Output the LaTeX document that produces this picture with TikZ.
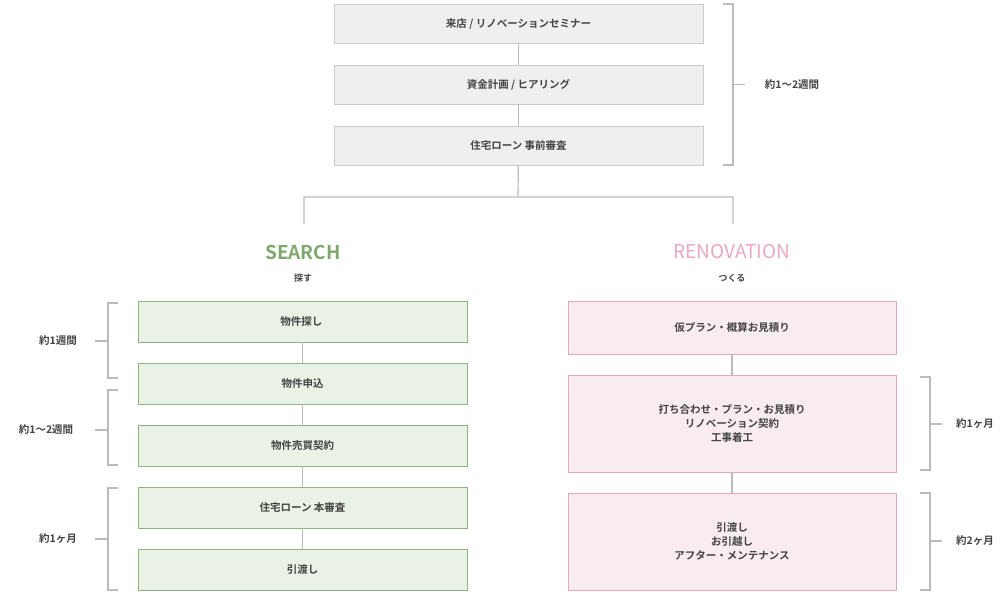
\documentclass[tikz,border=0pt]{standalone}
\usepackage{fontspec}
\setmainfont{Noto Sans CJK JP}[BoldFont={* Bold}]
\begin{document}
\begin{tikzpicture}[x=1pt,y=-1pt,
  every node/.style={font=\fontsize{10.5}{14}\selectfont\bfseries,text=txt,align=center},
  gbox/.style={draw=gb,fill=gf,line width=0.8pt,inner sep=0},
  gry/.style={draw=gr,fill=gf0,line width=0.8pt,inner sep=0},
  pbox/.style={draw=pb,fill=pf,line width=0.8pt,inner sep=0},
  ln/.style={draw=ln,line width=1.2pt},
  br/.style={draw=ln,line width=1.2pt}]
\definecolor{txt}{HTML}{444444}
\definecolor{gb}{HTML}{8DB57E}\definecolor{gf}{HTML}{EAF2E6}
\definecolor{gr}{HTML}{CCCCCC}\definecolor{gf0}{HTML}{EFEFEF}
\definecolor{pb}{HTML}{E8A6BE}\definecolor{pf}{HTML}{F8ECF1}
\definecolor{ln}{HTML}{BBBBBB}
\definecolor{sg}{HTML}{7FA86F}\definecolor{sp}{HTML}{E9A8C0}
\useasboundingbox (0,0) rectangle (1007,595);
% top
\node[gry,minimum width=369,minimum height=39] (t1) at (518.5,23.5) {来店 / リノベーションセミナー};
\node[gry,minimum width=369,minimum height=39] (t2) at (518.5,84.5) {資金計画 / ヒアリング};
\node[gry,minimum width=369,minimum height=39] (t3) at (518.5,145.5) {住宅ローン 事前審査};
\draw[ln] (t1)--(t2) (t2)--(t3);
\draw[br] (723,4)--(733,4)--(733,165)--(723,165) (733,84.5)--(745,84.5);
\node (lt) at (792,84.5) {約1〜2週間};
\coordinate (j) at (518,197);
\coordinate (ls) at (304,224); \coordinate (rs) at (733,224);
\draw[ln] (t3)--(j) (ls)|-(j) -| (rs);
% headers
\node[font=\fontsize{19}{22}\selectfont\bfseries,text=sg] (hs) at (303,252) {SEARCH};
\node[font=\fontsize{9}{11}\selectfont\bfseries] (ss) at (303,278) {探す};
\node[font=\fontsize{19}{22}\selectfont,text=sp] (hr) at (732,252) {RENOVATION};
\node[font=\fontsize{9}{11}\selectfont\bfseries] (sr) at (732,278) {つくる};
% left boxes
\foreach \n/\y/\t in {l1/321.5/物件探し / 内覧, l2/383.5/物件申込, l3/445.5/物件売買契約, l4/507.5/住宅ローン 本審査, l5/569.5/引渡し}
  \node[gbox,minimum width=329,minimum height=41] (\n) at (302.5,\y) {\t};
\draw[ln] (l1)--(l2) (l2)--(l3) (l3)--(l4) (l4)--(l5);
\draw[br] (118,303)--(108,303)--(108,378)--(118,378) (108,341)--(95,341);
\node (b1) at (58,341) {約1週間};
\draw[br] (118,390)--(108,390)--(108,465)--(118,465) (108,430)--(95,430);
\node (b2) at (46,430) {約1〜2週間};
\draw[br] (118,488)--(108,488)--(108,590)--(118,590) (108,539)--(95,539);
\node (b3) at (58,539) {約1ヶ月};
% right boxes
\node[pbox,minimum width=328,minimum height=53] (r1) at (732,327.5) {仮プラン・概算お見積り};
\node[pbox,minimum width=328,minimum height=97] (r2) at (732,423.5) {打ち合わせ・プラン・お見積り\\リノベーション契約\\工事着工};
\node[pbox,minimum width=328,minimum height=97] (r3) at (732,541.5) {引渡し\\お引越し\\アフター・メンテナンス};
\draw[ln] (r1)--(r2) (r2)--(r3);
\draw[br] (920,377)--(930,377)--(930,470)--(920,470) (930,424)--(942,424);
\node (b4) at (975,424) {約1ヶ月};
\draw[br] (920,493)--(930,493)--(930,590)--(920,590) (930,541)--(942,541);
\node (b5) at (975,541) {約2ヶ月};
\end{tikzpicture}
\end{document}
